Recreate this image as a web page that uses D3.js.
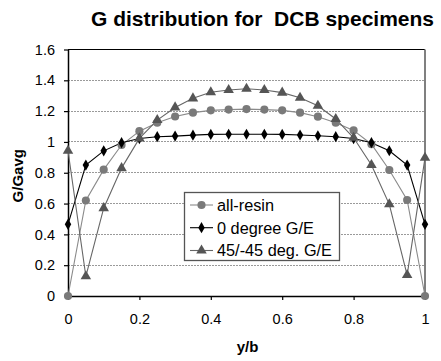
<!DOCTYPE html>
<html><head><meta charset="utf-8">
<script src="https://cdn.jsdelivr.net/npm/d3@7"></script>
<style>body{margin:0;background:#fff}svg{display:block;font-family:"Liberation Sans",Arial,sans-serif}</style>
</head><body><svg id="c" width="441" height="361"></svg>
<script>
const xs = [0,0.05,0.1,0.15,0.2,0.25,0.3,0.35,0.4,0.45,0.5,0.55,0.6,0.65,0.7,0.75,0.8,0.85,0.9,0.95,1];
const allResin = [0,0.62,0.82,0.98,1.07,1.125,1.165,1.19,1.205,1.21,1.213,1.21,1.205,1.19,1.164,1.125,1.075,0.985,0.818,0.623,0];
const deg0 = [0.465,0.85,0.942,0.995,1.022,1.034,1.038,1.044,1.049,1.05,1.05,1.05,1.049,1.045,1.04,1.034,1.022,0.995,0.943,0.85,0.465];
const deg45 = [0.943,0.128,0.57,0.83,1.023,1.142,1.224,1.283,1.322,1.337,1.345,1.337,1.32,1.287,1.235,1.149,1.027,0.85,0.595,0.136,0.897];
const seriesNames = ["all-resin","0 degree G/E","45/-45 deg. G/E"];
const xTicks = [0,0.2,0.4,0.6,0.8,1];
const yTicks = [0,0.2,0.4,0.6,0.8,1,1.2,1.4,1.6];
const titleText = "G distribution for  DCB specimens";

const svg = d3.select("#c");
const L=68,R=425,T=49.5,B=296;
const x = d3.scaleLinear().domain([0,1]).range([L,R]);
const y = d3.scaleLinear().domain([0,1.6]).range([B,T]);

// gridlines
svg.append("g").selectAll("line").data(yTicks.filter(v=>v>0&&v<1.6)).join("line")
  .attr("x1",L).attr("x2",R).attr("y1",d=>y(d)).attr("y2",d=>y(d))
  .attr("stroke","#9a9a9a").attr("stroke-width",1).attr("stroke-dasharray","1.5,1.5")
  .attr("shape-rendering","crispEdges");

// top and right border
svg.append("line").attr("x1",L).attr("x2",R).attr("y1",T).attr("y2",T).attr("stroke","#000").attr("stroke-width",1.2);
svg.append("line").attr("x1",R).attr("x2",R).attr("y1",T).attr("y2",B).attr("stroke","#808080").attr("stroke-width",2);

// axes
const xAxis = d3.axisBottom(x).tickValues(xTicks).tickFormat(d3.format("")).tickSizeInner(4).tickSizeOuter(0).tickPadding(14);
const yAxis = d3.axisLeft(y).tickValues(yTicks).tickFormat(d3.format("")).tickSizeInner(4).tickSizeOuter(0).tickPadding(9);
const gx = svg.append("g").attr("transform",`translate(0,${B})`).call(xAxis);
const gy = svg.append("g").attr("transform",`translate(${L},0)`).call(yAxis);
[gx,gy].forEach(g=>{
  g.select(".domain").attr("stroke","#000").attr("stroke-width",1.5);
  g.selectAll(".tick line").attr("stroke","#000").attr("stroke-width",1.2);
  g.selectAll(".tick text").attr("fill","#000").attr("font-size",14.5).attr("font-family","Liberation Sans, Arial, sans-serif");
});

// series
const specs = [
  {vals:allResin, line:"#8a8a8a", mark:"#7a7a7a", sym:d3.symbolCircle, size:52},
  {vals:deg0, line:"#000", mark:"#000", sym:d3.symbolDiamond, size:36},
  {vals:deg45, line:"#666", mark:"#555", sym:d3.symbolTriangle, size:48}
];
const lineGen = d3.line().x(d=>x(d[0])).y(d=>y(d[1]));
specs.forEach(s=>{
  const pts = xs.map((v,i)=>[v,s.vals[i]]);
  svg.append("path").datum(pts).attr("d",lineGen).attr("fill","none").attr("stroke",s.line).attr("stroke-width",1.1);
});
specs.forEach(s=>{
  const pts = xs.map((v,i)=>[v,s.vals[i]]);
  svg.append("g").selectAll("path").data(pts).join("path")
    .attr("d",d3.symbol().type(s.sym).size(s.size))
    .attr("transform",d=>`translate(${x(d[0])},${y(d[1])})`)
    .attr("fill",s.mark);
});

// legend
const lg = svg.append("g");
lg.append("rect").attr("x",184.5).attr("y",192.5).attr("width",155).attr("height",68)
  .attr("fill","#fff").attr("stroke","#555").attr("stroke-width",1.3);
const rows = [205,227.7,250.5];
specs.forEach((s,i)=>{
  lg.append("line").attr("x1",190).attr("x2",213).attr("y1",rows[i]).attr("y2",rows[i]).attr("stroke",s.line).attr("stroke-width",1.1);
  lg.append("path").attr("d",d3.symbol().type(s.sym).size(s.size)).attr("transform",`translate(201.5,${rows[i]})`).attr("fill",s.mark);
  lg.append("text").attr("x",217).attr("y",rows[i]).attr("dy","0.36em").attr("font-size",16.3).attr("fill","#000").text(seriesNames[i]);
});

// titles
svg.append("text").attr("x",262.5).attr("y",26).attr("text-anchor","middle").attr("font-size",21).attr("font-weight","bold")
  .style("white-space","pre").text(titleText);
svg.append("text").attr("x",(L+R)/2+1).attr("y",352).attr("text-anchor","middle").attr("font-size",15).attr("font-weight","bold").text("y/b");
svg.append("text").attr("transform",`translate(23,${(T+B)/2+3}) rotate(-90)`).attr("text-anchor","middle").attr("font-size",15).attr("font-weight","bold").text("G/Gavg");
</script></body></html>
